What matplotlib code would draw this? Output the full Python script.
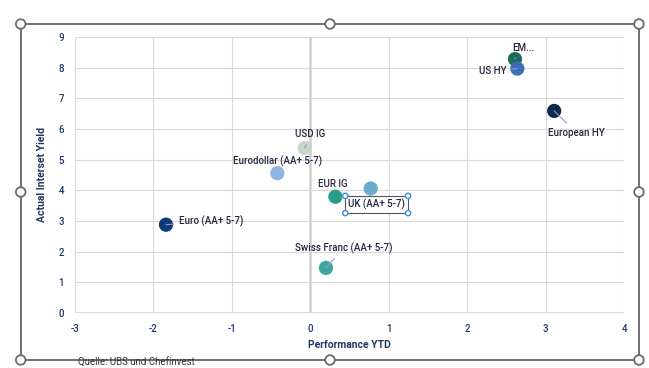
import matplotlib.pyplot as plt
from matplotlib.patches import Rectangle, Circle

# data
names = ["EM...", "US HY", "European HY", "USD IG", "Eurodollar (AA+ 5-7)",
         "EUR IG", "UK (AA+ 5-7)", "Euro (AA+ 5-7)", "Swiss Franc (AA+ 5-7)"]
perf = [2.61, 2.64, 3.11, -0.07, -0.42, 0.32, 0.77, -1.84, 0.20]
yld = [8.28, 7.97, 6.59, 5.38, 4.56, 3.79, 4.06, 2.88, 1.47]
colors = ["#1f6b5c", "#3a6fb8", "#0e2a4a", "#c7d8cb", "#8fb5e0",
          "#2a9d8a", "#6baccc", "#0b3b78", "#3aa99c"]
# label offsets in pixels, alignment, and whether a leader line is drawn
offsets = [(-3, 11), (-11, -2), (-6, -22), (5, 14), (0, 12),
           (-3, 13), (6, -16), (13, 3), (18, 20)]
aligns = ["left", "right", "left", "center", "center",
          "center", "center", "left", "center"]
leaders = [True, True, True, True, False, False, False, True, True]

navy = "#1f3864"
txt = "#262640"
plt.rcParams["font.family"] = ["Roboto", "DejaVu Sans"]
plt.rcParams["axes.unicode_minus"] = False

fig = plt.figure(figsize=(6.49, 3.68), dpi=100)
W, H = 649, 368
ax = fig.add_axes([75 / W, 1 - 313 / H, (624 - 75) / W, (313 - 37) / H])

ax.set_xlim(-3, 4)
ax.set_ylim(0, 9)
ax.set_xticks(range(-3, 5))
ax.set_yticks(range(0, 10))
ax.grid(True, color="#d9d9d9", lw=0.8)
ax.set_axisbelow(True)
for s in ax.spines.values():
    s.set_visible(False)
ax.axvline(0, color="#cfcfcf", lw=1.8, zorder=1)
ax.axhline(0, color="#cfcfcf", lw=1.8, zorder=1)
ax.tick_params(length=0, labelsize=7, labelcolor=navy, pad=8)
for lab in ax.get_xticklabels() + ax.get_yticklabels():
    lab.set_fontweight("medium")

ax.scatter(perf, yld, s=105, c=colors, zorder=3, linewidths=0)

uk_text = None
for i, n in enumerate(names):
    bbox = None
    if n.startswith("UK"):
        bbox = dict(boxstyle="square,pad=0.3", fc="white", ec="#555555", lw=0.8)
    arrow = None
    if leaders[i]:
        arrow = dict(arrowstyle="-", color="#9b92d4", lw=0.8, shrinkA=2, shrinkB=0)
    ann = ax.annotate(n, (perf[i], yld[i]), xytext=offsets[i],
                      textcoords="offset pixels", ha=aligns[i], va="center",
                      fontsize=7, color=txt, zorder=4, bbox=bbox,
                      fontweight="medium", arrowprops=arrow)
    if bbox is not None:
        uk_text = ann

ax.set_xlabel("Performance YTD", fontsize=7.5, color=navy, fontweight="bold", labelpad=4)
ax.set_ylabel("Actual Interset Yield", fontsize=7.5, color=navy, fontweight="bold", labelpad=8)

# selection frame with handles (as in the screenshot)
frame = Rectangle((20.7 / W, 1 - 360 / H), (639 - 20.7) / W, (360 - 24) / H,
                  transform=fig.transFigure, fill=False, ec="#595959", lw=1.2)
fig.add_artist(frame)
hx = [20.7, 330, 639]
hy = [24, 192, 360]
for x in hx:
    for y in hy:
        if x == 330 and y == 192:
            continue
        c = Circle((x, H - y), 4.8, transform=None, fc="white", ec="#6b6b6b", lw=1.3)
        fig.add_artist(c)

# small selection handles round the UK label box
fig.canvas.draw()
bb = uk_text.get_bbox_patch().get_window_extent()
for x in [bb.x0, bb.x1]:
    for y in [bb.y0, (bb.y0 + bb.y1) / 2, bb.y1]:
        if y == (bb.y0 + bb.y1) / 2:
            continue
        fig.add_artist(Circle((x, y), 2.6, transform=None, fc="white",
                              ec="#3d8fd6", lw=1.0, zorder=10))

fig.text(78 / W, 1 - 363 / H, "Quelle: UBS und Chefinvest", fontsize=7, color="#333333",
         va="center")

fig.savefig("out.png", dpi=100)
